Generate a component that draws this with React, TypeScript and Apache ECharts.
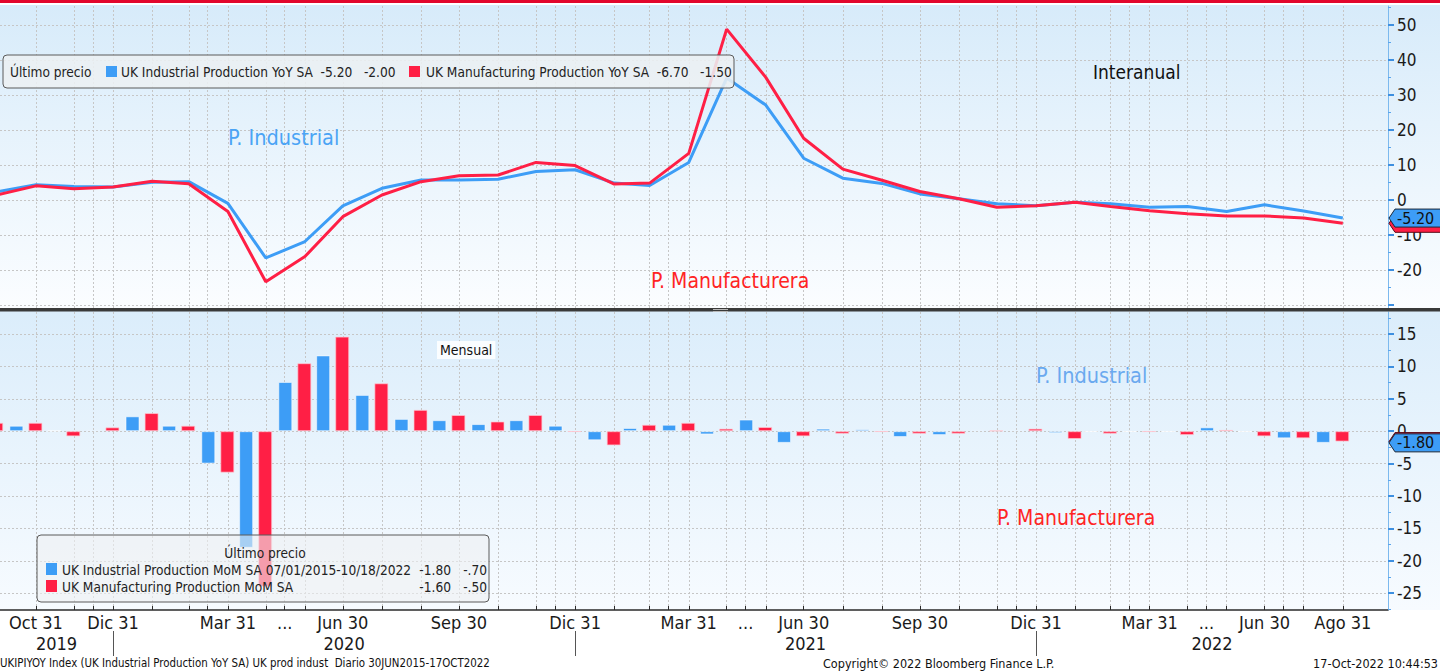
import React, { useEffect, useRef } from "react";
import * as echarts from "echarts";

// ---------- DATA ----------
const monthEnds = [
  "2019-09-30", "2019-10-31", "2019-11-30", "2019-12-31",
  "2020-01-31", "2020-02-29", "2020-03-31", "2020-04-30", "2020-05-31", "2020-06-30",
  "2020-07-31", "2020-08-31", "2020-09-30", "2020-10-31", "2020-11-30", "2020-12-31",
  "2021-01-31", "2021-02-28", "2021-03-31", "2021-04-30", "2021-05-31", "2021-06-30",
  "2021-07-31", "2021-08-31", "2021-09-30", "2021-10-31", "2021-11-30", "2021-12-31",
  "2022-01-31", "2022-02-28", "2022-03-31", "2022-04-30", "2022-05-31", "2022-06-30",
  "2022-07-31", "2022-08-31",
];
// UK Industrial Production YoY SA
const ipYoY = [
  2.3, 4.3, 3.8, 3.7, 5.0, 5.2, -1.0, -16.6, -11.9, -1.7, 3.3, 5.7, 5.7, 5.9, 8.1, 8.6,
  4.8, 4.1, 10.7, 34.8, 27.1, 11.9, 6.2, 4.7, 1.7, 0.3, -1.1, -1.7, -0.7, -1.1, -2.1, -1.9,
  -3.3, -1.4, -3.2, -5.2,
];
// UK Manufacturing Production YoY SA
const mfgYoY = [
  1.4, 4.0, 3.2, 3.7, 5.3, 4.6, -3.3, -23.4, -16.2, -4.8, 1.4, 5.2, 6.9, 7.1, 10.7, 9.8,
  4.5, 4.8, 13.3, 48.8, 35.0, 17.6, 8.8, 5.6, 2.4, 0.3, -2.1, -1.7, -0.7, -1.9, -3.1, -4.0,
  -4.6, -4.6, -5.2, -6.7,
];
// UK Industrial Production MoM SA
const ipMoM = [
  0.6, 0.85, 0.1, 0.2, 2.3, 0.85, -5.0, -18.0, 7.6, 11.7, 5.6, 1.9, 1.7, 1.1, 1.7, 0.85,
  -1.4, 0.5, 1.0, -0.5, 1.8, -1.8, 0.4, 0.3, -0.9, -0.6, 0.2, 0.2, -0.3, -0.1, -0.1, -0.1,
  0.6, -0.1, -1.1, -1.8,
];
// UK Manufacturing Production MoM SA
const mfgMoM = [
  1.3, 1.3, -0.8, 0.6, 2.8, 0.85, -6.4, -24.0, 10.5, 14.6, 7.4, 3.3, 2.5, 1.5, 2.5, -0.1,
  -2.2, 1.0, 1.3, 0.4, 0.65, -0.8, -0.4, -0.1, -0.4, -0.4, 0.1, 0.4, -1.2, -0.4, -0.1, -0.6,
  0.2, -0.8, -1.1, -1.6,
];

const extraGridDates = [
  "2019-12-15", "2020-03-15", "2020-05-15", "2020-12-15", "2021-03-15", "2021-05-15",
  "2021-12-15", "2022-03-15", "2022-05-15", "2022-07-15",
];
const monthLabelDates = [
  "2019-10-31", "2019-12-31", "2020-03-31", "2020-05-15", "2020-06-30", "2020-09-30",
  "2020-12-31", "2021-03-31", "2021-05-15", "2021-06-30", "2021-09-30", "2021-12-31",
  "2022-03-31", "2022-05-15", "2022-06-30", "2022-08-31",
];
const monthLabelTexts = [
  "Oct 31", "Dic 31", "Mar 31", "...", "Jun 30", "Sep 30", "Dic 31", "Mar 31", "...",
  "Jun 30", "Sep 30", "Dic 31", "Mar 31", "...", "Jun 30", "Ago 31",
];
const yearSeparatorDates = ["2019-12-31", "2020-12-31", "2021-12-31"];
const yearLabels = [2019, 2020, 2021, 2022];

const yoyTicks = [-30, -20, -10, 0, 10, 20, 30, 40, 50];
const yoyLabels = [-20, -10, 0, 10, 20, 30, 40, 50];
const yoyMinorTicks = [-25, -15, -5, 5, 15, 25, 35, 45, 55];
const momTicks = [-25, -20, -15, -10, -5, 0, 5, 10, 15];
const momMinorTicks = [-27.5, -22.5, -17.5, -12.5, -7.5, -2.5, 2.5, 7.5, 12.5, 17.5];

// axis extents
const X_MIN = "2019-10-02 12:00";
const X_MAX = "2022-10-05 19:00";
const BAR_AXIS_SHIFT_DAYS = 8;
const YOY_MIN = -30.9;
const YOY_MAX = 55.4;
const MOM_MIN = -27.6;
const MOM_MAX = 18.4;

// ---------- STYLE ----------
const FONT = '"DejaVu Sans Condensed", "DejaVu Sans", sans-serif';
const BLUE = "#3d9df6";
const RED = "#ff1f45";
const GRID_LINE = "#c6c6c6";
const AXIS_BLUE = "#7cb9ee";

function ts(s: string): number {
  const [d, t] = s.split(" ");
  const [y, m, dd] = d.split("-").map(Number);
  const [hh, mi] = t ? t.split(":").map(Number) : [0, 0];
  return Date.UTC(y, m - 1, dd, hh, mi);
}
const DAY = 86400000;

function bbg(v: number): string {
  const s = v.toFixed(2);
  return s.replace(/^(-?)0\./, "$1.");
}

function nearestText(v: number, dates: number[], texts: string[]): string {
  let best = 0;
  let bd = Infinity;
  dates.forEach((d, i) => {
    const dd = Math.abs(d - v);
    if (dd < bd) {
      bd = dd;
      best = i;
    }
  });
  return texts[best];
}

export default function App() {
  const ref = useRef<HTMLDivElement>(null);

  useEffect(() => {
    if (!ref.current) return;
    const chart = echarts.init(ref.current, undefined, { renderer: "svg" });

    const xMin = ts(X_MIN);
    const xMax = ts(X_MAX);
    const gridDates = [...monthEnds.slice(1), ...extraGridDates]
      .map(ts)
      .filter((v) => v <= ts("2022-08-31"))
      .sort((a, b) => a - b);
    const labelTs = monthLabelDates.map(ts);
    const sepTs = yearSeparatorDates.map(ts);
    const yearMid = yearLabels.map((y) => {
      const start = Math.max(xMin, ts(`${y - 1}-12-31`));
      const end = Math.min(xMax, ts(`${y}-12-31`));
      return (start + end) / 2;
    });
    const yearTexts = yearLabels.map(String);

    const dashed = { color: GRID_LINE, type: [2, 2] as any, width: 1 };
    const yFont = { fontFamily: FONT, fontSize: 17, color: "#1a1a1a" };
    const xFont = { fontFamily: FONT, fontSize: 18, color: "#1a1a1a" };

    const option: any = {
      animation: false,
      backgroundColor: "#ffffff",
      grid: [
        { left: 0, width: 1388, top: 6, height: 302, outerBoundsMode: "none" },
        { left: 0, width: 1388, top: 312, height: 298, outerBoundsMode: "none" },
      ],
      xAxis: [
        {
          type: "value", gridIndex: 0, min: xMin, max: xMax, scale: true,
          axisLine: { show: false },
          axisTick: { show: false, customValues: gridDates },
          axisLabel: { show: false, customValues: gridDates },
          splitLine: { show: true, lineStyle: dashed },
        },
        {
          type: "value", gridIndex: 1, min: xMin, max: xMax, position: "bottom", scale: true,
          axisLine: { show: true, onZero: false, lineStyle: { color: "#2a2a2a", width: 1.5 } },
          axisTick: { show: true, inside: true, length: 4, customValues: gridDates, lineStyle: { color: "#2a2a2a" } },
          axisLabel: {
            show: true, customValues: labelTs, margin: 3, ...xFont,
            formatter: (v: number) => nearestText(v, labelTs, monthLabelTexts),
          },
          splitLine: { show: true, lineStyle: dashed },
        },
        {
          type: "value", gridIndex: 1, show: false, position: "bottom", scale: true,
          min: xMin + BAR_AXIS_SHIFT_DAYS * DAY, max: xMax + BAR_AXIS_SHIFT_DAYS * DAY,
        },
        {
          type: "value", gridIndex: 1, min: xMin, max: xMax, position: "bottom", offset: 21, scale: true,
          axisLine: { show: false, onZero: false },
          axisTick: { show: true, length: 25, customValues: sepTs, lineStyle: { color: "#555", width: 1 } },
          axisLabel: {
            show: true, customValues: yearMid, margin: 3, ...xFont,
            formatter: (v: number) => nearestText(v, yearMid, yearTexts),
          },
          splitLine: { show: false },
        },
      ],
      yAxis: [
        {
          type: "value", gridIndex: 0, position: "right", min: YOY_MIN, max: YOY_MAX,
          axisLine: { show: true, lineStyle: { color: AXIS_BLUE, width: 1 } },
          axisTick: { show: true, length: 6, customValues: yoyTicks, lineStyle: { color: "#3d8fe0", width: 2 } },
          axisLabel: { show: true, customValues: yoyLabels, margin: 9, ...yFont },
          splitLine: { show: true, lineStyle: dashed },
        },
        {
          type: "value", gridIndex: 1, position: "right", min: MOM_MIN, max: MOM_MAX,
          axisLine: { show: true, lineStyle: { color: AXIS_BLUE, width: 1 } },
          axisTick: { show: true, length: 6, customValues: momTicks, lineStyle: { color: "#3d8fe0", width: 2 } },
          axisLabel: { show: true, customValues: momTicks, margin: 9, ...yFont },
          splitLine: { show: true, lineStyle: dashed },
        },
        {
          type: "value", gridIndex: 0, position: "right", min: YOY_MIN, max: YOY_MAX,
          axisLine: { show: false },
          axisTick: { show: true, length: 3, customValues: yoyMinorTicks, lineStyle: { color: "#5aa5ec", width: 1 } },
          axisLabel: { show: false, customValues: yoyMinorTicks },
          splitLine: { show: false },
        },
        {
          type: "value", gridIndex: 1, position: "right", min: MOM_MIN, max: MOM_MAX,
          axisLine: { show: false },
          axisTick: { show: true, length: 3, customValues: momMinorTicks, lineStyle: { color: "#5aa5ec", width: 1 } },
          axisLabel: { show: false, customValues: momMinorTicks },
          splitLine: { show: false },
        },
      ],
      series: [
        {
          name: "UK Industrial Production YoY SA", type: "line", xAxisIndex: 0, yAxisIndex: 0,
          showSymbol: false, data: monthEnds.map((d, i) => [ts(d), ipYoY[i]]),
          lineStyle: { color: BLUE, width: 3 }, itemStyle: { color: BLUE }, z: 3,
        },
        {
          name: "UK Manufacturing Production YoY SA", type: "line", xAxisIndex: 0, yAxisIndex: 0,
          showSymbol: false, data: monthEnds.map((d, i) => [ts(d), mfgYoY[i]]),
          lineStyle: { color: RED, width: 3 }, itemStyle: { color: RED }, z: 4,
        },
        {
          name: "UK Industrial Production MoM SA", type: "bar", xAxisIndex: 2, yAxisIndex: 1,
          barWidth: 14, barGap: "36%", data: monthEnds.map((d, i) => [ts(d), ipMoM[i]]),
          itemStyle: { color: BLUE, borderColor: "rgba(255,255,255,0.55)", borderWidth: 1 },
        },
        {
          name: "UK Manufacturing Production MoM SA", type: "bar", xAxisIndex: 2, yAxisIndex: 1,
          barWidth: 14, barGap: "36%", data: monthEnds.map((d, i) => [ts(d), mfgMoM[i]]),
          itemStyle: { color: RED, borderColor: "rgba(255,200,210,0.7)", borderWidth: 1 },
        },
      ],
    };
    chart.setOption(option);

    // ----- annotations (graphic) -----
    const lastIpYoY = ipYoY[ipYoY.length - 1];
    const lastMfgYoY = mfgYoY[mfgYoY.length - 1];
    const lastIpMoM = ipMoM[ipMoM.length - 1];
    const lastMfgMoM = mfgMoM[mfgMoM.length - 1];
    const chgIpYoY = lastIpYoY - ipYoY[ipYoY.length - 2];
    const chgMfgYoY = lastMfgYoY - mfgYoY[mfgYoY.length - 2];
    const chgIpMoM = lastIpMoM - ipMoM[ipMoM.length - 2];
    const chgMfgMoM = lastMfgMoM - mfgMoM[mfgMoM.length - 2];

    const yIpYoY = chart.convertToPixel({ yAxisIndex: 0 }, lastIpYoY) as number;
    const yMfgYoY = chart.convertToPixel({ yAxisIndex: 0 }, lastMfgYoY) as number;
    const yIpMoM = chart.convertToPixel({ yAxisIndex: 1 }, lastIpMoM) as number;
    const yMfgMoM = chart.convertToPixel({ yAxisIndex: 1 }, lastMfgMoM) as number;

    const flagShape = (y: number, fill: string, stroke: string, z: number) => ({
      type: "polygon", z,
      shape: { points: [[1389, y], [1395, y - 9], [1442, y - 9], [1442, y + 9], [1395, y + 9]] },
      style: { fill, stroke, lineWidth: 1 },
    });
    const flagText = (y: number, text: string, z: number) => ({
      type: "text", z, x: 1397, y,
      style: { text, fill: "#111", font: `16px ${FONT}`, textVerticalAlign: "middle", textAlign: "left" },
    });

    const txt = (x: number, y: number, text: string, size: number, fill: string, align = "left", extra: any = {}) => ({
      type: "text", z: 60, x, y,
      style: { text, fill, font: `${size}px ${FONT}`, textAlign: align, textVerticalAlign: "middle", ...extra },
    });

    const bgGrad = (c0: string, c1: string) => ({
      type: "linear", x: 0, y: 0, x2: 0, y2: 1,
      colorStops: [{ offset: 0, color: c0 }, { offset: 1, color: c1 }],
    });

    const LEG = 13.6;
    const graphics: any[] = [
      { type: "rect", z: -10, shape: { x: 0, y: 0, width: 1440, height: 3 }, style: { fill: "#e2062c" } },
      { type: "rect", z: -10, shape: { x: 0, y: 5, width: 1440, height: 303 }, style: { fill: bgGrad("#d7ebfa", "#fbfdff") } },
      { type: "rect", z: -10, shape: { x: 0, y: 311, width: 1440, height: 299 }, style: { fill: bgGrad("#dbedfb", "#f7fbff") } },
      { type: "rect", z: 50, shape: { x: 0, y: 308, width: 1440, height: 3.5 }, style: { fill: "#3a3a3a" } },
      { type: "line", z: 51, shape: { x1: 713, y1: 309.5, x2: 728, y2: 309.5 }, style: { stroke: "#b8b8b8", lineWidth: 1 } },
      { type: "line", z: 51, shape: { x1: 713, y1: 311.5, x2: 728, y2: 311.5 }, style: { stroke: "#b8b8b8", lineWidth: 1 } },

      txt(1093, 72, "Interanual", 19, "#111"),
      txt(228, 137, "P. Industrial", 21.5, "#4aa4f5"),
      txt(651, 281, "P. Manufacturera", 21, "#ff2424"),
      txt(437, 350, "Mensual", 14, "#111", "left", { backgroundColor: "rgba(255,255,255,0.85)", padding: [2, 3, 2, 3] }),
      txt(1036, 375, "P. Industrial", 21.5, "#6aa9ef"),
      txt(997, 518, "P. Manufacturera", 21, "#ff2424"),

      {
        type: "rect", z: 55, shape: { x: 3, y: 55, width: 731, height: 33, r: 4 },
        style: { fill: "rgba(236,240,243,0.88)", stroke: "#5a5a5a", lineWidth: 1 },
      },
      txt(10, 72, "Último precio", LEG, "#222"),
      { type: "rect", z: 60, shape: { x: 106, y: 66, width: 11, height: 11 }, style: { fill: BLUE } },
      txt(121, 72, `UK Industrial Production YoY SA  ${bbg(lastIpYoY)}   ${bbg(chgIpYoY)}`, LEG, "#222"),
      { type: "rect", z: 60, shape: { x: 409, y: 66, width: 11, height: 11 }, style: { fill: RED } },
      txt(426, 72, `UK Manufacturing Production YoY SA  ${bbg(lastMfgYoY)}   ${bbg(chgMfgYoY)}`, LEG, "#222"),

      {
        type: "rect", z: 55, shape: { x: 37, y: 535, width: 452, height: 67, r: 4 },
        style: { fill: "rgba(238,240,242,0.6)", stroke: "#5a5a5a", lineWidth: 1 },
      },
      txt(265, 553, "Último precio", LEG, "#222", "center"),
      { type: "rect", z: 60, shape: { x: 46, y: 563, width: 11, height: 12 }, style: { fill: BLUE } },
      txt(62, 570, "UK Industrial Production MoM SA 07/01/2015-10/18/2022", LEG, "#222"),
      txt(451, 570, bbg(lastIpMoM), LEG, "#222", "right"),
      txt(487, 570, bbg(chgIpMoM), LEG, "#222", "right"),
      { type: "rect", z: 60, shape: { x: 46, y: 580, width: 11, height: 12 }, style: { fill: RED } },
      txt(62, 587, "UK Manufacturing Production MoM SA", LEG, "#222"),
      txt(451, 587, bbg(lastMfgMoM), LEG, "#222", "right"),
      txt(487, 587, bbg(chgMfgMoM), LEG, "#222", "right"),

      txt(0, 663, "UKIPIYOY Index (UK Industrial Production YoY SA) UK prod indust  Diario 30JUN2015-17OCT2022", 11.4, "#111"),
      txt(823, 663, "Copyright© 2022 Bloomberg Finance L.P.", 12.5, "#111"),
      txt(1438, 663, "17-Oct-2022 10:44:53", 12.5, "#111", "right"),

      // last-value flags (the manufacturing flag sits behind the industrial one)
      flagShape(yMfgYoY, RED, "#5a0a18", 70),
      flagShape(yIpYoY, BLUE, "#1b2838", 72),
      flagText(yIpYoY, bbg(lastIpYoY), 73),
      flagShape(yMfgMoM, RED, "#5a0a18", 70),
      flagShape(yIpMoM, BLUE, "#1b2838", 72),
      flagText(yIpMoM, bbg(lastIpMoM), 73),
    ];

    chart.setOption({ graphic: graphics });

    return () => chart.dispose();
  }, []);

  return (
    <div
      ref={ref}
      style={{ position: "absolute", left: 0, top: 0, width: 1440, height: 671 }}
    />
  );
}
